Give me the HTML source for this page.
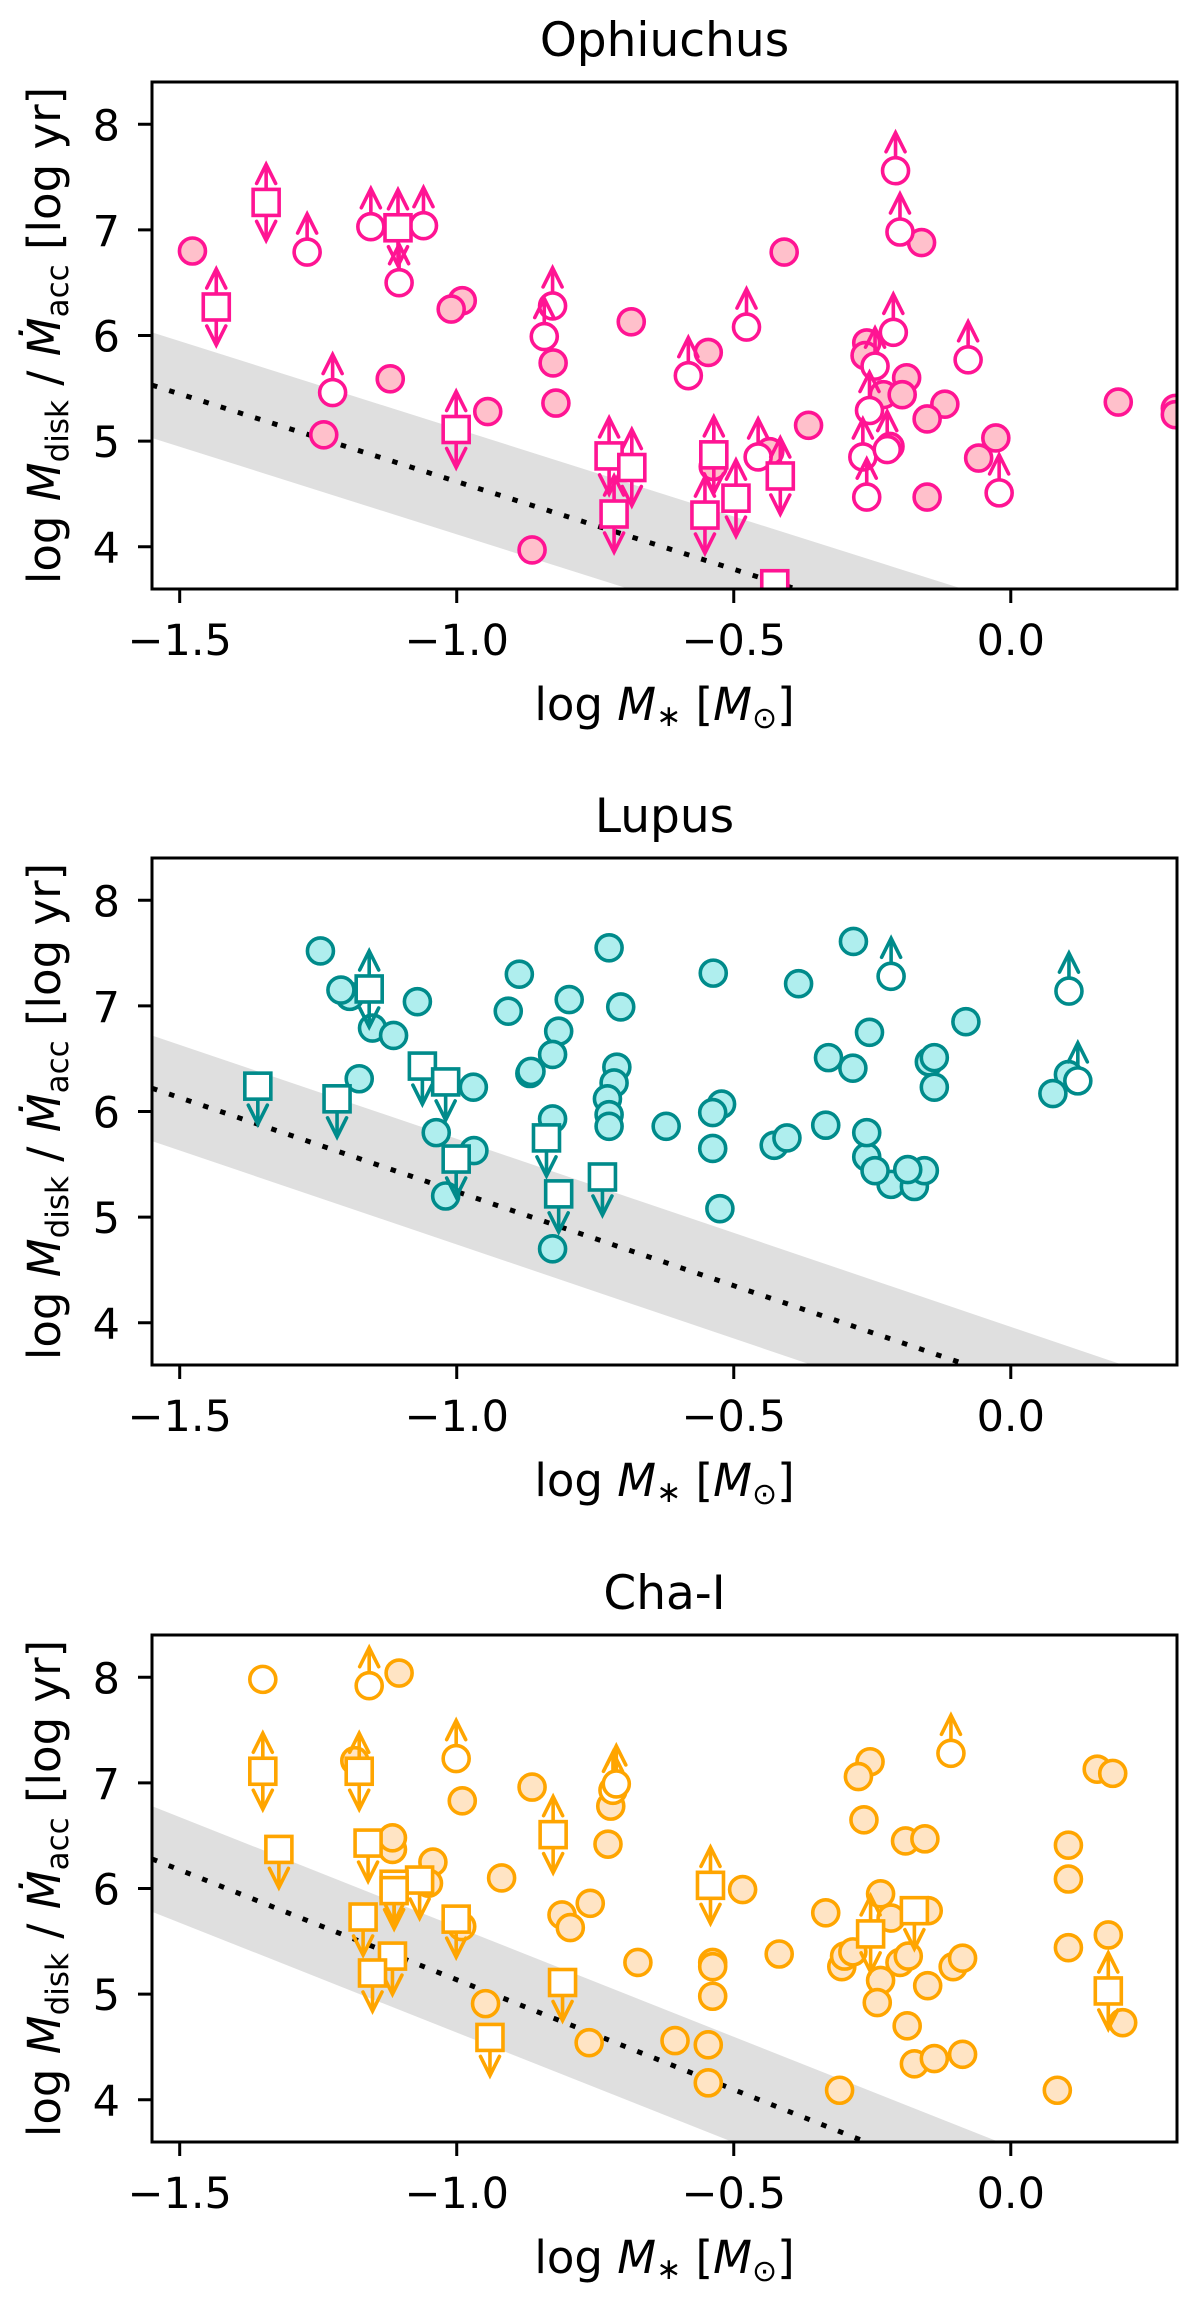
<!DOCTYPE html>
<html><head><meta charset="utf-8"><style>
html,body{margin:0;padding:0;background:#fff;}
svg{display:block;font-family:"DejaVu Sans","Liberation Sans",sans-serif;}
</style></head><body>
<svg id="fig" width="1200" height="2305" viewBox="0 0 1200 2305" xmlns="http://www.w3.org/2000/svg"></svg>
<script>
// ---------- data: Ophiuchus ----------
const ophFilled = [[-1.477,6.80],[-0.990,6.33],[-1.010,6.25],[-0.826,5.74],[-0.821,5.36],[-0.685,6.13],[-1.120,5.59],[-1.240,5.06],[-0.944,5.28],[-0.864,3.97],[-0.161,6.88],[-0.409,6.79],[-0.546,5.84],[-0.260,5.93],[-0.263,5.81],[-0.188,5.60],[-0.230,5.44],[-0.196,5.44],[-0.119,5.35],[-0.151,5.21],[-0.365,5.15],[0.194,5.37],[0.297,5.31],[0.297,5.25],[-0.537,4.76],[-0.435,4.90],[-0.218,4.95],[-0.151,4.47],[-0.058,4.84],[-0.027,5.03]];
const ophOpenUp = [[-1.270,6.79],[-1.155,7.03],[-1.060,7.04],[-1.104,6.50],[-0.827,6.28],[-0.842,5.99],[-1.224,5.46],[-0.208,7.56],[-0.200,6.98],[-0.477,6.08],[-0.582,5.62],[-0.212,6.03],[-0.245,5.71],[-0.255,5.29],[-0.456,4.85],[-0.267,4.85],[-0.223,4.92],[-0.260,4.47],[-0.021,4.51],[-0.077,5.77]];
const ophOpen = [];
const ophSquareBoth = [[-1.344,7.26],[-1.434,6.27],[-1.106,7.02],[-1.001,5.11],[-0.725,4.86],[-0.684,4.75],[-0.716,4.31],[-0.536,4.87],[-0.496,4.46],[-0.552,4.30],[-0.416,4.67]];
const ophSquareDown = [[-0.426,3.65]];
const ophLine = [5.53,-1.66];
// ---------- data: Lupus ----------
const lupFilled = [[-1.246,7.52],[-1.193,7.09],[-1.209,7.15],[-1.071,7.04],[-1.152,6.79],[-1.114,6.72],[-1.176,6.31],[-0.970,6.23],[-1.037,5.80],[-0.969,5.63],[-1.020,5.20],[-0.887,7.30],[-0.907,6.95],[-0.797,7.06],[-0.725,7.55],[-0.704,6.99],[-0.816,6.76],[-0.827,6.54],[-0.868,6.36],[-0.866,6.38],[-0.711,6.42],[-0.716,6.27],[-0.728,6.12],[-0.725,5.97],[-0.725,5.86],[-0.827,5.93],[-0.827,4.70],[-0.622,5.86],[-0.284,7.61],[-0.537,7.31],[-0.383,7.21],[-0.081,6.85],[-0.255,6.75],[-0.329,6.51],[-0.285,6.41],[-0.147,6.47],[-0.138,6.51],[-0.138,6.23],[0.104,6.35],[0.076,6.17],[-0.522,6.07],[-0.538,5.99],[-0.538,5.65],[-0.525,5.08],[-0.427,5.68],[-0.404,5.75],[-0.334,5.87],[-0.260,5.57],[-0.260,5.80],[-0.216,5.31],[-0.174,5.29],[-0.156,5.44],[-0.245,5.44],[-0.186,5.45]];
const lupOpenUp = [[-0.216,7.28],[0.105,7.14],[0.121,6.29]];
const lupOpen = [];
const lupSquareBoth = [[-1.158,7.16]];
const lupSquareDown = [[-1.359,6.24],[-1.216,6.12],[-1.062,6.43],[-1.020,6.28],[-1.001,5.55],[-0.838,5.75],[-0.816,5.22],[-0.737,5.38]];
const lupLine = [6.22,-1.78];
// ---------- data: Cha-I ----------
const chaFilled = [[-1.104,8.04],[-1.184,7.21],[-0.990,6.83],[-0.864,6.96],[-0.722,6.78],[-0.727,6.42],[-1.116,6.37],[-1.116,6.48],[-1.043,6.25],[-1.051,6.05],[-0.919,6.10],[-0.991,5.64],[-0.759,5.86],[-0.810,5.75],[-0.795,5.63],[-0.673,5.30],[-0.948,4.91],[-0.761,4.54],[-0.254,7.20],[-0.275,7.06],[0.156,7.13],[0.184,7.09],[-0.265,6.65],[-0.190,6.45],[-0.155,6.47],[0.104,6.41],[0.104,6.09],[-0.484,5.99],[-0.334,5.77],[-0.216,5.72],[-0.235,5.95],[-0.149,5.79],[0.104,5.44],[0.176,5.56],[0.202,4.73],[-0.538,5.30],[-0.538,5.26],[-0.538,4.98],[-0.418,5.38],[-0.305,5.26],[-0.300,5.36],[-0.285,5.40],[-0.235,5.13],[-0.241,4.92],[-0.200,5.30],[-0.185,5.36],[-0.150,5.08],[-0.104,5.26],[-0.087,5.34],[-0.187,4.70],[-0.174,4.34],[-0.138,4.39],[-0.087,4.43],[0.084,4.09],[-0.606,4.56],[-0.546,4.52],[-0.546,4.16],[-0.309,4.09]];
const chaOpenUp = [[-1.158,7.92],[-1.001,7.23],[-0.718,6.93],[-0.712,6.99],[-0.108,7.28]];
const chaOpen = [[-1.350,7.98]];
const chaSquareBoth = [[-1.350,7.11],[-1.176,7.11],[-0.826,6.51],[-0.542,6.03],[-0.253,5.57],[0.176,5.03]];
const chaSquareDown = [[-1.321,6.37],[-1.160,6.43],[-1.067,6.08],[-1.113,6.04],[-1.113,5.98],[-1.169,5.73],[-1.001,5.71],[-1.116,5.36],[-1.152,5.20],[-0.809,5.11],[-0.940,4.59],[-0.174,5.79]];
const chaLine = [6.28,-2.08];
// ---------- axes ----------
const xTicks = [-1.5,-1.0,-0.5,0.0];
const xTickLabels = ["\u22121.5","\u22121.0","\u22120.5","0.0"];
const yTicks = [4,5,6,7,8];
const yTickLabels = ["4","5","6","7","8"];
const xMin=-1.55, xMax=0.3, yMin=3.6, yMax=8.4;

const NS="http://www.w3.org/2000/svg";
const svg=document.getElementById('fig');
function mk(tag,attrs,parent){const e=document.createElementNS(NS,tag);for(const k in attrs)e.setAttribute(k,attrs[k]);(parent||svg).appendChild(e);return e;}

const L=152,R=1177,H=507;
function sx(x){return L+(x-xMin)*(R-L)/(xMax-xMin);}

function panel(idx,top,title,edge,fill,filled,openUp,open,sqBoth,sqDown,line){
  const sy=y=>top+(yMax-y)*H/(yMax-yMin);
  const g=mk('g',{});
  
  
  const cid='clip'+idx;
  const cp=mk('clipPath',{id:cid},g);
  mk('rect',{x:L,y:top,width:R-L,height:H},cp);
  const bg=mk('rect',{x:L,y:top,width:R-L,height:H,fill:'#fff'},g);
  
  
  const pg=mk('g',{'clip-path':'url(#'+cid+')'},g);
  // band + line
  const f=x=>line[0]+line[1]*(x-xMin);
  const band=mk('polygon',{points:[[xMin,f(xMin)+0.5],[xMax,f(xMax)+0.5],[xMax,f(xMax)-0.5],[xMin,f(xMin)-0.5]].map(p=>sx(p[0])+','+sy(p[1])).join(' '),fill:'#dfdfdf'},pg);
  
  
  const rl=mk('line',{x1:sx(xMin),y1:sy(f(xMin)),x2:sx(xMax),y2:sy(f(xMax)),stroke:'#000','stroke-width':5,'stroke-dasharray':'5.5 12.5'},pg);
  
  
  const sw=3.6;
  function arrow(cx,cy,dir){
    const tip=cy+dir*38;
    mk('line',{x1:cx,y1:cy,x2:cx,y2:tip,stroke:edge,'stroke-width':sw},pg);
    mk('polyline',{points:(cx-9.5)+','+(tip-dir*19)+' '+cx+','+tip+' '+(cx+9.5)+','+(tip-dir*19),fill:'none',stroke:edge,'stroke-width':sw,'stroke-linecap':'round','stroke-linejoin':'miter'},pg);
  }
  filled.forEach(p=>{
    const c=mk('circle',{cx:sx(p[0]),cy:sy(p[1]),r:13,fill:fill,stroke:edge,'stroke-width':sw},pg);
    
    
  });
  open.forEach(p=>{
    const c=mk('circle',{cx:sx(p[0]),cy:sy(p[1]),r:13,fill:'#fff',stroke:edge,'stroke-width':sw},pg);
    
    
  });
  openUp.forEach(p=>{
    arrow(sx(p[0]),sy(p[1]),-1);
    const c=mk('circle',{cx:sx(p[0]),cy:sy(p[1]),r:13,fill:'#fff',stroke:edge,'stroke-width':sw},pg);
    
    
  });
  sqBoth.forEach(p=>{
    arrow(sx(p[0]),sy(p[1]),-1);arrow(sx(p[0]),sy(p[1]),1);
    const s=mk('rect',{x:sx(p[0])-13,y:sy(p[1])-13,width:26,height:26,fill:'#fff',stroke:edge,'stroke-width':sw},pg);
    
    
  });
  sqDown.forEach(p=>{
    arrow(sx(p[0]),sy(p[1]),1);
    const s=mk('rect',{x:sx(p[0])-13,y:sy(p[1])-13,width:26,height:26,fill:'#fff',stroke:edge,'stroke-width':sw},pg);
    
    
  });
  const fr=mk('rect',{x:L,y:top,width:R-L,height:H,fill:'none',stroke:'#000','stroke-width':3},g);
  
  
  // ticks
  xTicks.forEach((t,i)=>{
    mk('line',{x1:sx(t),y1:top+H,x2:sx(t),y2:top+H+14,stroke:'#000','stroke-width':3},g);
    const tx=mk('text',{x:sx(t),y:top+H+66,'font-size':43,'text-anchor':'middle',fill:'#000'},g);
    tx.textContent=xTickLabels[i];
    
    
  });
  yTicks.forEach((t,i)=>{
    mk('line',{x1:L-14,y1:sy(t),x2:L,y2:sy(t),stroke:'#000','stroke-width':3},g);
    const tx=mk('text',{x:120,y:sy(t)+16,'font-size':43,'text-anchor':'end',fill:'#000'},g);
    tx.textContent=yTickLabels[i];
    
    
  });
  const tt=mk('text',{x:(L+R)/2,y:top-26,'font-size':47,'text-anchor':'middle',fill:'#000'},g);
  tt.textContent=title;
  
  
  const xl=mk('text',{x:(L+R)/2,y:top+H+131,'font-size':45,'text-anchor':'middle',fill:'#000'},g);
  xl.innerHTML='log <tspan font-style="italic">M</tspan><tspan font-size="30" dy="6">\u2217</tspan><tspan dy="-6"> [</tspan><tspan font-style="italic">M</tspan><tspan font-size="30" dy="8">\u2299</tspan><tspan dy="-8">]</tspan>';
  
  
  const cy=top+H/2;
  const yl=mk('text',{x:0,y:0,'font-size':45,'text-anchor':'middle',fill:'#000',transform:'translate(60,'+cy+') rotate(-90)'},g);
  yl.innerHTML='log <tspan font-style="italic">M</tspan><tspan font-size="31" dy="8">disk</tspan><tspan dy="-8"> / </tspan><tspan font-style="italic">M\u0307</tspan><tspan font-size="31" dy="8">acc</tspan><tspan dy="-8"> [log yr]</tspan>';
  
  
}
panel(1,82,'Ophiuchus','#ff1493','#ffc0cb',ophFilled,ophOpenUp,ophOpen,ophSquareBoth,ophSquareDown,ophLine);
panel(2,858,'Lupus','#008b8b','#afeeee',lupFilled,lupOpenUp,lupOpen,lupSquareBoth,lupSquareDown,lupLine);
panel(3,1635,'Cha-I','#ffa500','#ffe4c4',chaFilled,chaOpenUp,chaOpen,chaSquareBoth,chaSquareDown,chaLine);
</script>
</body></html>
